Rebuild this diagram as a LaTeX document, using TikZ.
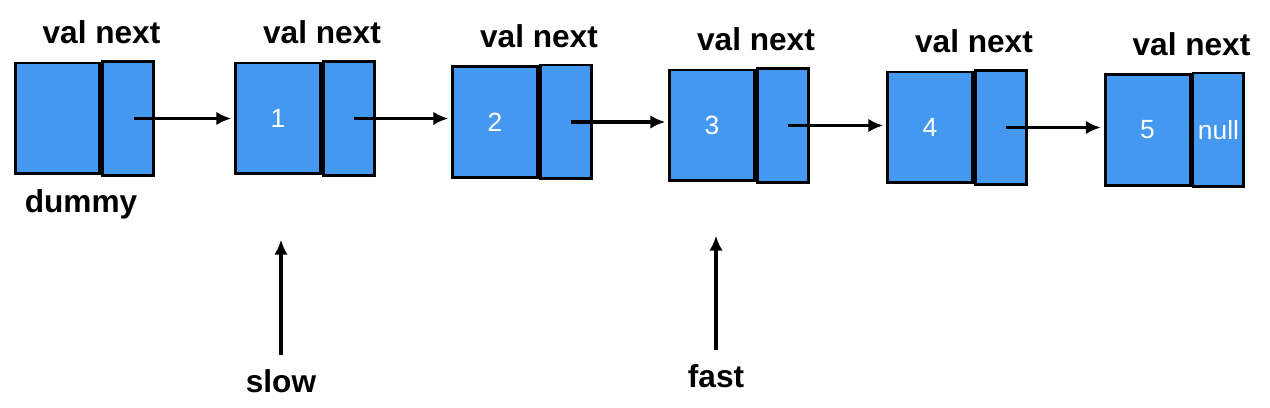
\documentclass[tikz,border=0pt]{standalone}
\usepackage{fontspec}
\setmainfont{Liberation Sans}
\usetikzlibrary{arrows.meta,positioning}
\definecolor{cellblue}{RGB}{68,152,240}

\tikzset{
  valcell/.style={draw=black,fill=cellblue,line width=1.7pt,minimum width=1.7cm,
    minimum height=2.22cm,inner sep=0pt,text=white,font=\fontsize{15}{17}\selectfont},
  nextcell/.style={valcell,minimum width=1.02cm,minimum height=2.28cm},
  head/.style={font=\bfseries\fontsize{18}{20}\selectfont},
  link/.style={->,line width=2pt,shorten >=1.5pt},
}

\begin{document}
\begin{tikzpicture}[x=0.02cm,y=0.02cm,>={Latex[length=0.3cm,width=0.27cm]}]
    \useasboundingbox (0,0) rectangle (1270,408);

    % list cells: index/x/y/value/next
    \foreach \i/\x/\y/\v/\nx in {0/57.5/289.5/{}/{},1/278/289.5/1/{},2/495/286/2/{},
      3/712/282.5/3/{},4/930/280.5/4/{},5/1147.5/278/5/null} {
      \node[valcell] (v\i) at (\x,\y) {\v};
      \node[nextcell,anchor=west] (n\i) at (v\i.east) {\nx};
      \node[head,anchor=base] (h\i) at ([yshift=0.36cm]v\i.north east) {val next};
    }

    \foreach \i [count=\j] in {0,...,4}
      \draw[link] ([xshift=3pt]n\i.center) -- (n\i.center -| v\j.west);

    \node[head,anchor=base] (dummy) at (81,195) {dummy};

    % pointers
    \node[head,anchor=base] (slow) at (281,15) {slow};
    \coordinate (slowtip) at (281,171);
    \draw[link,shorten <=5pt] (slow.north) -- (slowtip);

    \node[head,anchor=base] (fast) at (716,20) {fast};
    \coordinate (fasttip) at (716,175);
    \draw[link,shorten <=5pt] (fast.north) -- (fasttip);

\end{tikzpicture}
\end{document}
